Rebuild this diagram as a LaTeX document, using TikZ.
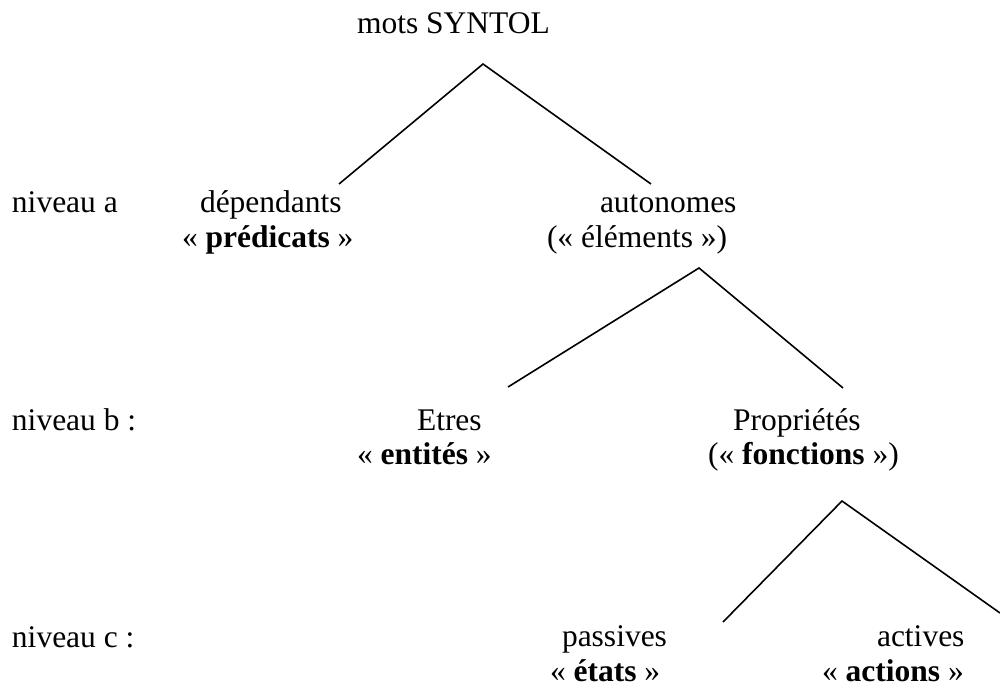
\documentclass[tikz,border=0pt]{standalone}
\usepackage{fontspec}
\setmainfont{Liberation Serif}
\begin{document}
\begin{tikzpicture}[x=1pt,y=-1pt,
  lbl/.style={anchor=base west,inner sep=0pt,outer sep=0pt,font=\fontsize{31.5}{35}\selectfont},
  branch/.style={line width=1.6pt,line cap=butt}]
\useasboundingbox (0,0) rectangle (1000,688);
\fill[white] (0,0) rectangle (1000,688);
% texts
\node[lbl] (root) at (357,33) {mots SYNTOL};
\node[lbl] (na) at (12,212) {niveau a};
\node[lbl] (dep) at (200,212) {dépendants};
\node[lbl] (pred) at (182,247) {« \textbf{prédicats} »};
\node[lbl] (auto) at (600,212) {autonomes};
\node[lbl] (elem) at (547,247) {(« éléments »)};
\node[lbl] (nb) at (12,430) {niveau b :};
\node[lbl] (etres) at (417,430) {Etres};
\node[lbl] (ent) at (357,464) {« \textbf{entités} »};
\node[lbl] (prop) at (733,430) {Propriétés};
\node[lbl] (fonc) at (708,464) {(« \textbf{fonctions} »)};
\node[lbl] (nc) at (12,647) {niveau c :};
\node[lbl] (pass) at (562,646) {passives};
\node[lbl] (etats) at (550,681) {« \textbf{états} »};
\node[lbl] (act) at (877,646) {actives};
\node[lbl] (actions) at (822,681) {« \textbf{actions} »};
% branch points
\coordinate (a0) at (483,64);
\coordinate (a1) at (339,184);
\coordinate (a2) at (651,184);
\coordinate (b0) at (699,268);
\coordinate (b1) at (508,387);
\coordinate (b2) at (843,388);
\coordinate (c0) at (842,501);
\coordinate (c1) at (723,622);
\coordinate (c2) at (1000,613);
\draw[branch] (a1) -- (a0) -- (a2);
\draw[branch] (b1) -- (b0) -- (b2);
\draw[branch] (c1) -- (c0) -- (c2);
\end{tikzpicture}
\end{document}
